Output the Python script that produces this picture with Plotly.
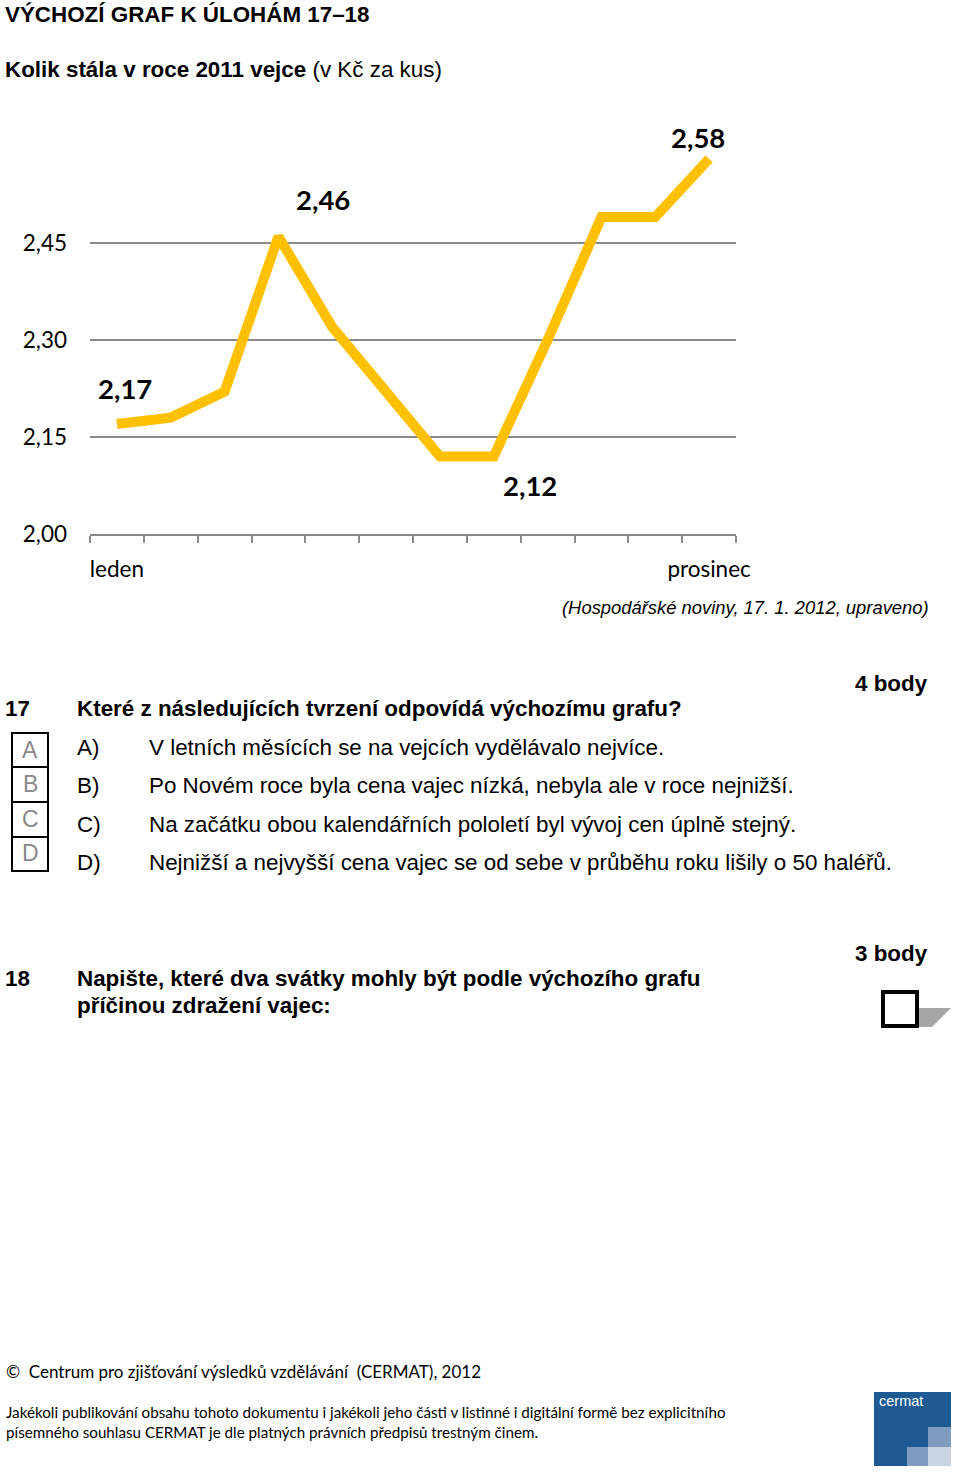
import plotly.graph_objects as go

# ---------------- data ----------------
months = ["leden", "únor", "březen", "duben", "květen", "červen",
          "červenec", "srpen", "září", "říjen", "listopad", "prosinec"]
prices = [2.17, 2.18, 2.22, 2.46, 2.32, 2.22, 2.12, 2.12, 2.30, 2.49, 2.49, 2.58]
y_ticks = [2.00, 2.15, 2.30, 2.45]
shown_month_labels = ["leden", "prosinec"]
labeled_months = ["leden", "duben", "srpen", "prosinec"]

# ---------------- layout geometry (pixels) ----------------
W, H = 960, 1474
L, R, T, B = 90, 736, 130, 534   # plot area box
PW, PH = R - L, B - T


def px(x):
    return (x - L) / PW


def py(y):
    return (B - y) / PH


ARIAL = "Liberation Sans, Arial, sans-serif"
CALIBRI = "Lato, Carlito, Calibri, sans-serif"
GOLD = "#FFC000"
GRID = "#8a8a8a"

fig = go.Figure()
fig.add_trace(go.Scatter(
    x=months, y=prices, mode="lines",
    line=dict(color=GOLD, width=10),
    hoverinfo="skip", showlegend=False,
))

annotations = []

# data labels
label_offsets = {"leden": (8, 36), "duben": (45, 37), "srpen": (36, -29), "prosinec": (-11, 21)}
for m in labeled_months:
    v = prices[months.index(m)]
    dx, dy = label_offsets[m]
    annotations.append(dict(
        x=m, y=v, xref="x", yref="y", xshift=dx, yshift=dy,
        text="<b>" + f"{v:.2f}".replace(".", ",") + "</b>",
        showarrow=False, font=dict(family=CALIBRI, size=27.5, color="#000"),
        xanchor="center", yanchor="middle",
    ))


def text(x, y, s, size, family=ARIAL, xanchor="left", color="#000"):
    annotations.append(dict(
        x=px(x), y=py(y), xref="paper", yref="paper", text=s, showarrow=False,
        xanchor=xanchor, yanchor="middle", align=xanchor if xanchor != "center" else "center",
        font=dict(family=family, size=size, color=color),
    ))


FS = 22.4
text(3, 15, "<b>VÝCHOZÍ GRAF K ÚLOHÁM 17–18</b>", FS)
text(3, 69, "<b>Kolik stála v roce 2011 vejce</b> (v Kč za kus)", FS)
text(931, 607, "<i>(Hospodářské noviny, 17. 1. 2012, upraveno)</i>", 18.4, xanchor="right")

text(930, 683, "<b>4 body</b>", FS, xanchor="right")
text(3, 708, "<b>17</b>", FS)
text(75, 708, "<b>Které z následujících tvrzení odpovídá výchozímu grafu?</b>", FS)

options = [
    ("A", "A)", "V letních měsících se na vejcích vydělávalo nejvíce.", 747, 750),
    ("B", "B)", "Po Novém roce byla cena vajec nízká, nebyla ale v roce nejnižší.", 785, 784),
    ("C", "C)", "Na začátku obou kalendářních pololetí byl vývoj cen úplně stejný.", 824, 819),
    ("D", "D)", "Nejnižší a nejvyšší cena vajec se od sebe v průběhu roku lišily o 50 haléřů.", 862, 853),
]
for letter, lab, s, y, ly in options:
    text(30, ly, letter, 23, xanchor="center", color="#8a8a8a")
    text(75, y, lab, FS)
    text(147, y, s, FS)

text(930, 953, "<b>3 body</b>", FS, xanchor="right")
text(3, 978, "<b>18</b>", FS)
text(75, 978, "<b>Napište, které dva svátky mohly být podle výchozího grafu</b>", FS)
text(75, 1005, "<b>příčinou zdražení vajec:</b>", FS)

text(4, 1371, "©  Centrum pro zjišťování výsledků vzdělávání  (CERMAT), 2012", 17, family=CALIBRI)
text(4, 1412, "Jakékoli publikování obsahu tohoto dokumentu i jakékoli jeho části v listinné i digitální formě bez explicitního", 15.2, family=CALIBRI)
text(4, 1432, "písemného souhlasu CERMAT je dle platných právních předpisů trestným činem.", 15.2, family=CALIBRI)
text(877, 1401, "cermat", 14.5, family=ARIAL, color="#ffffff")

shapes = []


def rect(x0, y0, x1, y1, **kw):
    shapes.append(dict(type="rect", xref="paper", yref="paper",
                       x0=px(x0), x1=px(x1), y0=py(y0), y1=py(y1), **kw))


# answer boxes A-D
rect(12, 733, 48, 871, line=dict(color="#000", width=2), fillcolor="rgba(0,0,0,0)")
for yy in (767, 802, 837):
    shapes.append(dict(type="line", xref="paper", yref="paper",
                       x0=px(12), x1=px(48), y0=py(yy), y1=py(yy),
                       line=dict(color="#000", width=2)))

# question 18 box with shadow
pts = [(918, 1008), (951, 1008), (932, 1027), (918, 1027)]
path = "M " + " L ".join(f"{px(a)},{py(b)}" for a, b in pts) + " Z"
shapes.append(dict(type="path", xref="paper", yref="paper", path=path,
                   fillcolor="#a6a6a6", line=dict(width=0)))
rect(883, 992, 917, 1026, line=dict(color="#000", width=4), fillcolor="#ffffff")

# cermat logo
rect(874, 1392, 951, 1466, line=dict(width=0), fillcolor="#1d5a94")
rect(928, 1427, 951, 1447, line=dict(width=0), fillcolor="#7f9bc0")
rect(907, 1447, 928, 1466, line=dict(width=0), fillcolor="#7f9bc0")
rect(928, 1447, 951, 1466, line=dict(width=0), fillcolor="#c9d3e2")

fig.update_layout(
    width=W, height=H,
    margin=dict(l=L, r=W - R, t=T, b=H - B, pad=0),
    paper_bgcolor="#ffffff", plot_bgcolor="#ffffff",
    separators=", ",
    showlegend=False,
    annotations=annotations,
    shapes=shapes,
    xaxis=dict(
        type="category", categoryorder="array", categoryarray=months,
        tickmode="array", tickvals=months,
        ticktext=[m if m in shown_month_labels else "" for m in months],
        tickson="boundaries", ticks="outside", ticklen=7, tickwidth=1.5, tickcolor=GRID,
        showline=True, linecolor=GRID, linewidth=1.5, showgrid=False, zeroline=False,
        tickangle=0, ticklabelstandoff=14,
        tickfont=dict(family=CALIBRI, size=22.5, color="#000"),
        range=[-0.5, len(months) - 0.5], fixedrange=True,
    ),
    yaxis=dict(
        range=[2.0, 2.0 + (B - T) / 646.7],
        tickmode="array", tickvals=y_ticks, tickformat=".2f",
        showgrid=True, gridcolor=GRID, gridwidth=1.5, zeroline=False,
        showline=False, ticks="", ticklabelstandoff=22,
        tickfont=dict(family=CALIBRI, size=22.5, color="#000"),
        fixedrange=True,
    ),
)

fig.write_html("out.html")
